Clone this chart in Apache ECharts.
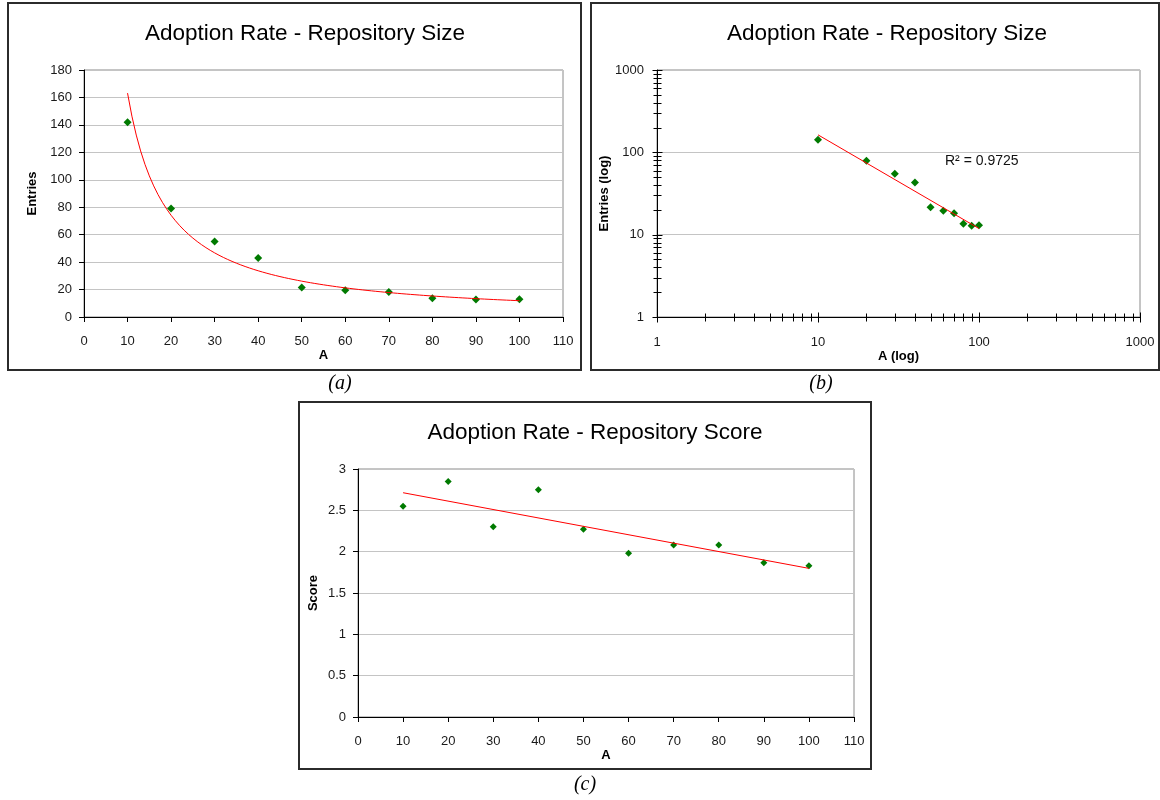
<!DOCTYPE html>
<html>
<head>
<meta charset="utf-8">
<title>Adoption Rate</title>
<script src="https://cdn.jsdelivr.net/npm/echarts@6/dist/echarts.min.js"></script>
<style>
  html, body { margin: 0; padding: 0; background: #fff; }
  #chart { width: 1160px; height: 800px; }
</style>
</head>
<body>
<div id="chart"></div>
<script>
// values
const aValues = [10, 20, 30, 40, 50, 60, 70, 80, 90, 100];
const entries = [142, 79, 55, 43, 21.5, 19.5, 18.2, 13.6, 12.8, 13];
const scores = [2.55, 2.85, 2.3, 2.75, 2.27, 1.98, 2.08, 2.08, 1.865, 1.83];

const titleSize = 'Adoption Rate - Repository Size';
const titleScore = 'Adoption Rate - Repository Score';
const r2Text = 'R\u00B2 = 0.9725';

// log axis ticks for panel (b)
const logDecades = [1, 10, 100];
const logSteps = [1, 2, 3, 4, 5, 6, 7, 8, 9];
const logTicks = logDecades.flatMap(d => logSteps.map(s => s * d)).concat([1000]);

const FONT = '"Liberation Sans", Arial, sans-serif';

// least squares helpers for the trendlines
function linearFit(xs, ys) {
    const n = xs.length;
    const mx = xs.reduce((s, v) => s + v, 0) / n;
    const my = ys.reduce((s, v) => s + v, 0) / n;
    let sxy = 0, sxx = 0;
    for (let i = 0; i < n; i++) {
        sxy += (xs[i] - mx) * (ys[i] - my);
        sxx += (xs[i] - mx) * (xs[i] - mx);
    }
    const slope = sxy / sxx;
    return { slope: slope, intercept: my - slope * mx };
}

function powerFit(xs, ys) {
    const f = linearFit(xs.map(Math.log), ys.map(Math.log));
    return { a: Math.exp(f.intercept), b: f.slope };
}

const pw = powerFit(aValues, entries);
const lin = linearFit(aValues, scores);
const xFirst = aValues[0], xLast = aValues[aValues.length - 1];

const powerCurve = [];
for (let x = xFirst; x <= xLast; x++) {
    powerCurve.push([x, pw.a * Math.pow(x, pw.b)]);
}
const powerEnds = [xFirst, xLast].map(x => [x, pw.a * Math.pow(x, pw.b)]);
const linEnds = [xFirst, xLast].map(x => [x, lin.intercept + lin.slope * x]);

const points = aValues.map((x, i) => [x, entries[i]]);
const scorePoints = aValues.map((x, i) => [x, scores[i]]);

const labelStyle = { color: '#1a1a1a', fontSize: 13, fontFamily: FONT };
const nameStyle = { color: '#000', fontSize: 13, fontWeight: 'bold', fontFamily: FONT };
const blackLine = { show: true, lineStyle: { color: '#000', width: 1 } };
const gridLine = { show: true, lineStyle: { color: '#c4c4c4', width: 1 } };
const outTick = { show: true, inside: false, length: 5, lineStyle: { color: '#000' } };
const dotStyle = { color: '#007a00', opacity: 1 };

function linearX(name, gridIndex) {
    return {
        gridIndex: gridIndex, type: 'value', min: 0, max: 110, interval: 10,
        name: name, nameLocation: 'middle', nameGap: 32, nameTextStyle: nameStyle,
        axisLine: blackLine, axisTick: outTick,
        axisLabel: Object.assign({ margin: 18 }, labelStyle),
        splitLine: { show: false }
    };
}

function tickSeries(axisDim) {
    return {
        type: 'custom', xAxisIndex: 1, yAxisIndex: 1, clip: false, silent: true, z: 5,
        data: logTicks.map(v => axisDim === 'x' ? [v, 1] : [1, v]),
        renderItem: function (params, api) {
            const p = api.coord([api.value(0), api.value(1)]);
            const v = axisDim === 'x' ? api.value(0) : api.value(1);
            const major = Math.abs(Math.log10(v) - Math.round(Math.log10(v))) < 1e-9;
            const h = major ? 5 : 4;
            const px = Math.round(p[0]) + 0.5, py = Math.round(p[1]) + 0.5;
            const shape = axisDim === 'x'
                ? { x1: px, y1: py - h, x2: px, y2: py + h }
                : { x1: px - h, y1: py, x2: px + h, y2: py };
            return { type: 'line', shape: shape, style: { stroke: '#000', lineWidth: 1 } };
        }
    };
}

const chart = echarts.init(document.getElementById('chart'));

chart.setOption({
    backgroundColor: '#fff',
    animation: false,
    grid: [
        { left: 84, top: 70, width: 479, height: 247, show: true, borderColor: '#8a8a8a', borderWidth: 1 },
        { left: 657, top: 70, width: 483, height: 247, show: true, borderColor: '#8a8a8a', borderWidth: 1 },
        { left: 358, top: 469, width: 496, height: 248, show: true, borderColor: '#8a8a8a', borderWidth: 1 }
    ],
    xAxis: [
        linearX('A', 0),
        {
            gridIndex: 1, type: 'log', logBase: 10, min: 1, max: 1000,
            name: 'A (log)', nameLocation: 'middle', nameGap: 32, nameTextStyle: nameStyle,
            axisLine: blackLine, axisTick: { show: false },
            axisLabel: Object.assign({ margin: 19, formatter: v => String(Math.round(v)) }, labelStyle),
            splitLine: { show: false }
        },
        linearX('A', 2)
    ],
    yAxis: [
        {
            gridIndex: 0, type: 'value', min: 0, max: 180, interval: 20,
            name: 'Entries', nameLocation: 'middle', nameGap: 45, nameTextStyle: nameStyle,
            axisLine: blackLine, axisTick: outTick,
            axisLabel: Object.assign({ margin: 12 }, labelStyle),
            splitLine: gridLine
        },
        {
            gridIndex: 1, type: 'log', logBase: 10, min: 1, max: 1000,
            name: 'Entries (log)', nameLocation: 'middle', nameGap: 44, nameTextStyle: nameStyle,
            axisLine: blackLine, axisTick: { show: false },
            axisLabel: Object.assign({ margin: 13, formatter: v => String(Math.round(v)) }, labelStyle),
            splitLine: gridLine
        },
        {
            gridIndex: 2, type: 'value', min: 0, max: 3, interval: 0.5,
            name: 'Score', nameLocation: 'middle', nameGap: 38, nameTextStyle: nameStyle,
            axisLine: blackLine, axisTick: outTick,
            axisLabel: Object.assign({ margin: 12 }, labelStyle),
            splitLine: gridLine
        }
    ],
    series: [
        // (a)
        {
            type: 'scatter', xAxisIndex: 0, yAxisIndex: 0, data: points,
            symbol: 'diamond', symbolSize: 8, itemStyle: dotStyle
        },
        {
            type: 'line', xAxisIndex: 0, yAxisIndex: 0, data: powerCurve, showSymbol: false,
            lineStyle: { color: '#ff0000', width: 1 }, z: 3
        },
        // (b)
        {
            type: 'scatter', xAxisIndex: 1, yAxisIndex: 1, data: points,
            symbol: 'diamond', symbolSize: 8, itemStyle: dotStyle
        },
        {
            type: 'line', xAxisIndex: 1, yAxisIndex: 1, data: powerEnds, showSymbol: false,
            lineStyle: { color: '#ff0000', width: 1 }, z: 3
        },
        tickSeries('x'),
        tickSeries('y'),
        // (c)
        {
            type: 'scatter', xAxisIndex: 2, yAxisIndex: 2, data: scorePoints,
            symbol: 'diamond', symbolSize: 7, itemStyle: dotStyle
        },
        {
            type: 'line', xAxisIndex: 2, yAxisIndex: 2, data: linEnds, showSymbol: false,
            lineStyle: { color: '#ff0000', width: 1 }, z: 3
        }
    ],
    graphic: [
        // panel frames
        { type: 'rect', shape: { x: 8, y: 3, width: 573, height: 367 }, style: { fill: 'transparent', stroke: '#2b2b2b', lineWidth: 2 } },
        { type: 'rect', shape: { x: 591, y: 3, width: 568, height: 367 }, style: { fill: 'transparent', stroke: '#2b2b2b', lineWidth: 2 } },
        { type: 'rect', shape: { x: 299, y: 402, width: 572, height: 367 }, style: { fill: 'transparent', stroke: '#2b2b2b', lineWidth: 2 } },
        // titles
        { type: 'text', x: 305, y: 34, style: { text: titleSize, font: '22.5px ' + FONT, fill: '#000', align: 'center', verticalAlign: 'middle' } },
        { type: 'text', x: 887, y: 34, style: { text: titleSize, font: '22.5px ' + FONT, fill: '#000', align: 'center', verticalAlign: 'middle' } },
        { type: 'text', x: 595, y: 433, style: { text: titleScore, font: '22.5px ' + FONT, fill: '#000', align: 'center', verticalAlign: 'middle' } },
        // R squared note
        { type: 'text', x: 945, y: 161, style: { text: r2Text, font: '14px ' + FONT, fill: '#111', align: 'left', verticalAlign: 'middle' } },
        // captions
        { type: 'text', x: 340, y: 384, style: { text: '(a)', font: 'italic 20px "Liberation Serif", serif', fill: '#000', align: 'center', verticalAlign: 'middle' } },
        { type: 'text', x: 821, y: 384, style: { text: '(b)', font: 'italic 20px "Liberation Serif", serif', fill: '#000', align: 'center', verticalAlign: 'middle' } },
        { type: 'text', x: 585, y: 785, style: { text: '(c)', font: 'italic 20px "Liberation Serif", serif', fill: '#000', align: 'center', verticalAlign: 'middle' } }
    ]
});

window.addEventListener('resize', () => chart.resize());
</script>
</body>
</html>
